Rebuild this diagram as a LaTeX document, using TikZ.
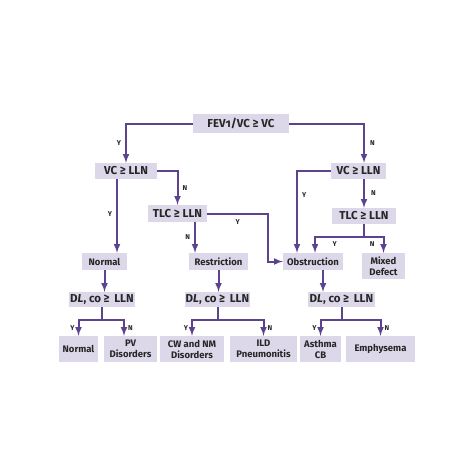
\documentclass[tikz,border=0pt]{standalone}
\usepackage{fontspec}
\setmainfont{Fira Sans}
\usetikzlibrary{arrows, positioning, calc}
\definecolor{boxfill}{HTML}{DDD8E9}
\definecolor{linepurple}{HTML}{5D4290}
\definecolor{textgray}{HTML}{262626}

\begin{document}
\begin{tikzpicture}[
        x=1pt, y=-1pt,
        test/.style={rectangle, fill=boxfill, text=textgray, font=\bfseries\fontsize{11.5}{13}\selectfont, minimum height=16pt, inner sep=1pt, align=center},
        result/.style={rectangle, fill=boxfill, text=textgray, font=\bfseries\fontsize{9.5}{11}\selectfont, minimum height=17pt, inner sep=1pt, align=center},
        arrow/.style={line width=2pt, draw=linepurple, ->, >=latex},
        yn/.style={font=\bfseries\fontsize{7}{8}\selectfont, text=textgray, inner sep=1pt}
    ]
        \path[fill=white, use as bounding box] (0,0) rectangle (474,474);

        % Nodes
        \node[test, minimum width=96pt, minimum height=19pt] (fev) at (241,123.5) {FEV{\addfontfeatures{Numbers=OldStyle}1}/VC ≥ VC};
        \node[test, minimum width=62pt] (vcl) at (126,171) {VC ≥ LLN};
        \node[test, minimum width=55pt] (vcr) at (358.5,171) {VC ≥ LLN};
        \node[test, minimum width=59pt, minimum height=17pt] (tlcl) at (177.5,213.5) {TLC ≥ LLN};
        \node[test, minimum width=64pt] (tlcr) at (364,216) {TLC ≥ LLN};

        \node[result, minimum width=45pt] (normal) at (104.5,261.5) {Normal};
        \node[result, minimum width=59pt] (restr) at (218.5,261.5) {Restriction};
        \node[result, minimum width=60pt] (obst) at (313,261.5) {Obstruction};
        \node[result, minimum width=43pt, minimum height=26pt] (mixed) at (383.5,266) {Mixed\\Defect};

        \node[test, minimum width=66pt, minimum height=15pt] (dlnorm) at (102,299.5) {D{\itshape L}, co ≥ \,LLN};
        \node[test, minimum width=65pt, minimum height=15pt] (dlrestr) at (217.5,299.5) {D{\itshape L}, co ≥ \,LLN};
        \node[test, minimum width=67pt, minimum height=15pt] (dlobst) at (341.5,299.5) {D{\itshape L}, co ≥ \,LLN};

        \node[result, minimum width=39pt, minimum height=26pt] (pvnormal) at (78.5,349) {Normal};
        \node[result, minimum width=53pt, minimum height=26pt] (pvdis) at (130.5,349) {PV\\Disorders};
        \node[result, minimum width=64pt, minimum height=26pt] (cwnm) at (192,349) {CW and NM\\Disorders};
        \node[result, minimum width=67pt, minimum height=26pt] (ild) at (263.5,349) {ILD\\Pneumonitis};
        \node[result, minimum width=41pt, minimum height=26pt] (asthma) at (320.5,349) {Asthma\\CB};
        \node[result, minimum width=69pt, minimum height=26pt] (emph) at (380.5,349) {Emphysema};

        % Arrows
        \draw[arrow] (fev.west) -| node[yn, pos=0.75, left=3pt] {Y} (vcl.north);
        \draw[arrow] (fev.east) -| node[yn, pos=0.75, right=4pt] {N} ([xshift=5.5pt]vcr.north);

        \draw[arrow] (vcl.east) -| node[yn, pos=0.75, right=3pt] {N} (tlcl.north);
        \draw[arrow] ([xshift=12.5pt]normal.north |- vcl.south) -- node[yn, pos=0.47, left=3pt] {Y} ([xshift=12.5pt]normal.north);
        \draw[arrow] (tlcl.east) -- node[yn, below=4pt] {Y} ++(61,0) |- (obst.west);
        \draw[arrow] ([xshift=17.5pt]tlcl.south) -- node[yn, left=3pt] {N} ([xshift=17.5pt]tlcl.south |- restr.north);

        \draw[arrow] (vcr.west) -| node[yn, pos=0.65, right=3pt] {Y} ([xshift=-16pt]obst.north);
        \draw[arrow] ([xshift=5.5pt]vcr.south) -- node[yn, right=5pt] {N} (tlcr.north);
        \draw[arrow] (tlcr.south) -- ++(0,13) -| node[yn, pos=0.3, below=2pt] {Y} ([xshift=2pt]obst.north);
        \draw[arrow] (tlcr.south) -- ++(0,13) -| node[yn, pos=0.21, below=2pt] {N} (mixed.north);

        \draw[arrow] (normal.south) -- (normal.south |- dlnorm.north);
        \draw[arrow] (restr.south) -- (restr.south |- dlrestr.north);
        \draw[arrow] ([xshift=10pt]obst.south) -- ([xshift=10pt]obst.south |- dlobst.north);

        \draw[arrow] (dlnorm.south) -- ++(0,13) -| node[yn, pos=0.75, left=2pt] {Y} (pvnormal.north);
        \draw[arrow] (dlnorm.south) -- ++(0,13) -| node[yn, pos=0.75, right=2pt] {N} ([xshift=-6.5pt]pvdis.north);
        \draw[arrow] (dlrestr.south) -- ++(0,13) -| node[yn, pos=0.75, left=2pt] {Y} (cwnm.north);
        \draw[arrow] (dlrestr.south) -- ++(0,13) -| node[yn, pos=0.75, right=2pt] {N} (ild.north);
        \draw[arrow] (dlobst.south) -- ++(0,13) -| node[yn, pos=0.75, left=2pt] {Y} (asthma.north);
        \draw[arrow] (dlobst.south) -- ++(0,13) -| node[yn, pos=0.75, right=2pt] {N} (emph.north);
    \end{tikzpicture}
\end{document}
